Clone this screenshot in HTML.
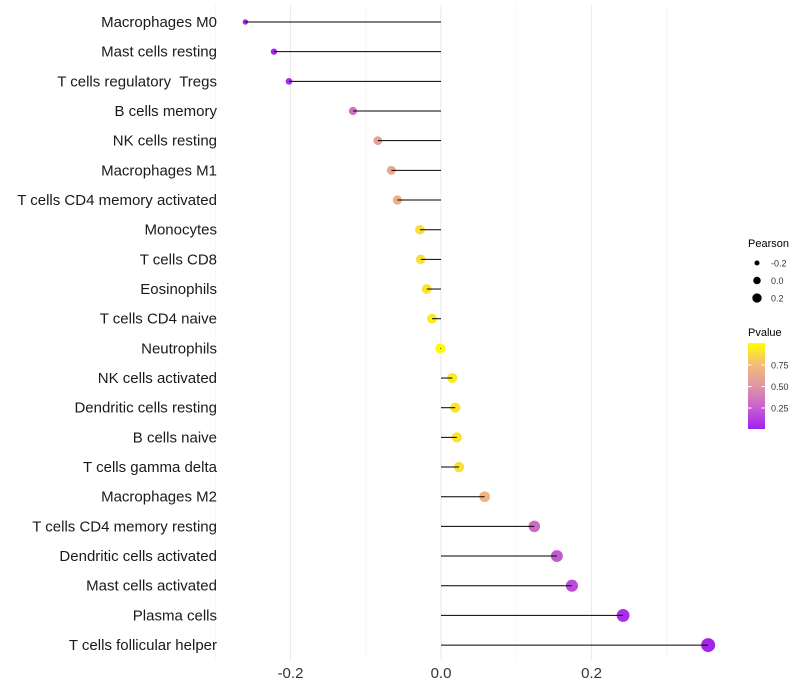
<!DOCTYPE html>
<html><head><meta charset="utf-8"><style>
body{margin:0;background:#fff;font-family:"Liberation Sans",sans-serif}
svg{display:block}
</style></head><body>
<svg id="chart" width="800" height="700"></svg>
<script>
const categories=["Macrophages M0","Mast cells resting","T cells regulatory  Tregs","B cells memory","NK cells resting","Macrophages M1","T cells CD4 memory activated","Monocytes","T cells CD8","Eosinophils","T cells CD4 naive","Neutrophils","NK cells activated","Dendritic cells resting","B cells naive","T cells gamma delta","Macrophages M2","T cells CD4 memory resting","Dendritic cells activated","Mast cells activated","Plasma cells","T cells follicular helper"];
const pearson=[-0.26,-0.222,-0.202,-0.117,-0.084,-0.066,-0.058,-0.028,-0.027,-0.019,-0.012,-0.001,0.015,0.019,0.021,0.024,0.058,0.124,0.154,0.174,0.242,0.355];
const pvalue=[0.01,0.03,0.06,0.33,0.56,0.62,0.67,0.88,0.88,0.9,0.93,0.99,0.92,0.9,0.9,0.88,0.7,0.3,0.22,0.17,0.06,0.02];
const xTicks=[-0.2,0.0,0.2];
const xGrid=[-0.3,-0.1,0.1,0.3];
const legendSizes=[-0.2,0.0,0.2];
const legendP=[0.25,0.5,0.75];

const NS="http://www.w3.org/2000/svg";
const svg=document.getElementById('chart');
function mk(t,a,p){const e=document.createElementNS(NS,t);for(const k in a)e.setAttribute(k,a[k]);(p||svg).appendChild(e);return e;}
const x=v=>441+v*752.5;
const y=i=>22+i*29.67;
const rad=v=>Math.max(1.5,Math.sqrt(Math.max(0,25+67.6*v)));
const stops=[[0,[160,32,240]],[0.25,[200,96,208]],[0.5,[226,150,164]],[0.75,[242,188,120]],[1,[255,255,0]]];
function col(p){for(let i=1;i<stops.length;i++){if(p<=stops[i][0]){const a=stops[i-1],b=stops[i],t=(p-a[0])/(b[0]-a[0]);const c=a[1].map((v,k)=>Math.round(v+(b[1][k]-v)*t));return `rgb(${c})`;}}return 'rgb(255,255,0)';}

xGrid.forEach(v=>{const l=mk('line',{x1:x(v),x2:x(v),y1:5,y2:660,stroke:'#f0f0f0','stroke-width':0.6});
});
xTicks.forEach(v=>{const l=mk('line',{x1:x(v),x2:x(v),y1:5,y2:660,stroke:'#ebebeb','stroke-width':1.1});

const t=mk('text',{x:x(v),y:678,'text-anchor':'middle','font-size':15,fill:'#333'});t.textContent=v===0?'0.0':v.toFixed(1);
});

categories.forEach((c,i)=>{
 const t=mk('text',{x:217,y:y(i)+5,'text-anchor':'end','font-size':15,fill:'#1a1a1a','xml:space':'preserve',style:'white-space:pre'});t.textContent=c;
 
 const p=mk('circle',{cx:x(pearson[i]),cy:y(i),r:rad(pearson[i]),fill:col(pvalue[i])});
 
 const s=mk('line',{x1:x(0),x2:x(pearson[i]),y1:y(i),y2:y(i),stroke:'#000','stroke-width':1});
 
});

const g=mk('g',{});
let tt=mk('text',{x:748,y:247,'font-size':11,fill:'#000'},g);tt.textContent='Pearson';
legendSizes.forEach((v,i)=>{const cy=263+i*17.5;
 const c=mk('circle',{cx:757,cy:cy,r:rad(v)*0.75,fill:'#000'},g);
 const t=mk('text',{x:771,y:cy+3.5,'font-size':9,fill:'#333'},g);t.textContent=v===0?'0.0':v.toFixed(1);});
tt=mk('text',{x:748,y:336,'font-size':11,fill:'#000'},g);tt.textContent='Pvalue';
const defs=mk('defs',{});const lg=mk('linearGradient',{id:'pg',x1:0,y1:1,x2:0,y2:0},defs);
stops.forEach(s=>mk('stop',{offset:s[0],'stop-color':`rgb(${s[1]})`},lg));
const bar=mk('rect',{x:748,y:343,width:17,height:86,fill:'url(#pg)'},g);
const ly=p=>429-(p-0.006)*86;
legendP.forEach(p=>{mk('line',{x1:748,x2:751.5,y1:ly(p),y2:ly(p),stroke:'#fff'},g);mk('line',{x1:761.5,x2:765,y1:ly(p),y2:ly(p),stroke:'#fff'},g);
 const t=mk('text',{x:771,y:ly(p)+3.5,'font-size':9,fill:'#333'},g);t.textContent=p.toFixed(2);});
</script>
</body></html>
